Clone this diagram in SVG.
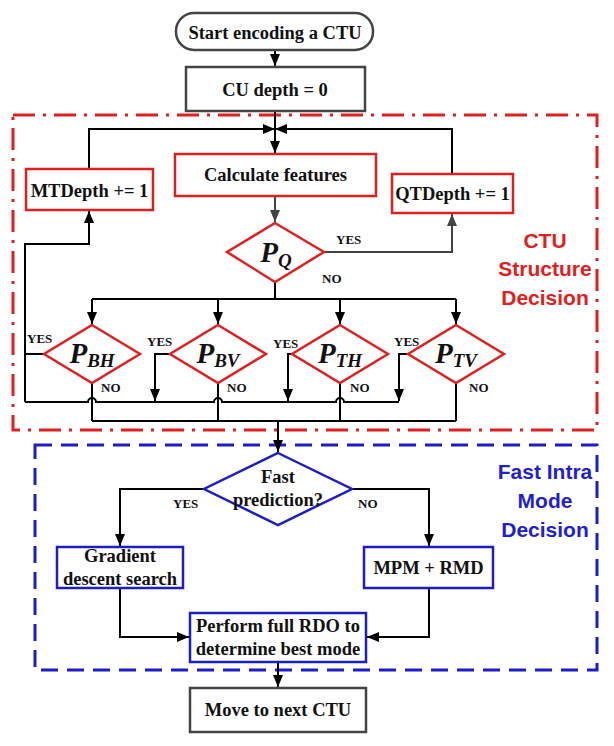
<svg xmlns="http://www.w3.org/2000/svg" width="614" height="746" viewBox="0 0 614 746">
<defs>
<marker id="ah" markerUnits="userSpaceOnUse" markerWidth="13" markerHeight="10" refX="12" refY="5" orient="auto"><path d="M0,0 L12,5 L0,10 z" fill="#000"/></marker>
<marker id="ahg" markerUnits="userSpaceOnUse" markerWidth="13" markerHeight="10" refX="12" refY="5" orient="auto"><path d="M0,0 L12,5 L0,10 z" fill="#444"/></marker>
</defs>
<style>
.t{font-family:"Liberation Serif","Times New Roman",serif;font-weight:bold;font-size:18.5px;fill:#111;text-anchor:middle}
.lb{font-family:"Liberation Serif","Times New Roman",serif;font-weight:bold;font-size:13px;fill:#111}
.p{font-family:"Liberation Serif","Times New Roman",serif;font-weight:bold;font-style:italic;fill:#111;text-anchor:middle}
.rb{fill:#fff;stroke:#e02020;stroke-width:2.5}
.bb{fill:#fff;stroke:#1c1cc8;stroke-width:2.5}
.gb{fill:#fff;stroke:#444;stroke-width:2.5}
.c{fill:none;stroke:#000;stroke-width:2}
.cg{fill:none;stroke:#444;stroke-width:2}
.sec{font-family:"Liberation Sans",Arial,sans-serif;font-weight:bold;font-size:21px;text-anchor:middle}
</style>
<rect x="13" y="115" width="584" height="315" fill="none" stroke="#e02020" stroke-width="3" stroke-dasharray="22 8 3 8"/>
<rect x="35" y="445" width="562" height="225" fill="none" stroke="#1c1cc8" stroke-width="3" stroke-dasharray="17 9"/>
<g id="connectors">
<path class="c" d="M275,50 V66" marker-end="url(#ah)"/>
<path class="c" d="M275,111 V153" marker-end="url(#ah)"/>
<path class="c" d="M89,169 V129 H275" marker-end="url(#ah)"/>
<path class="c" d="M452,174 V129 H275" marker-end="url(#ah)"/>
<path class="cg" d="M275,196 V222" marker-end="url(#ahg)"/>
<path class="cg" d="M324,252 H452 V214" marker-end="url(#ahg)"/>
<path class="c" d="M275,282 V299 M92,299 H456"/>
<path class="c" d="M92,299 V324" marker-end="url(#ah)"/>
<path class="c" d="M218,299 V324" marker-end="url(#ah)"/>
<path class="c" d="M340,299 V324" marker-end="url(#ah)"/>
<path class="c" d="M456,299 V324" marker-end="url(#ah)"/>
<path class="c" d="M44,354 H25 M25,402 V244 H89 V211" marker-end="url(#ah)"/>
<path class="c" d="M170,354 H155 V401" marker-end="url(#ah)"/>
<path class="c" d="M292,354 H288 V401" marker-end="url(#ah)"/>
<path class="c" d="M408,354 H399 V401" marker-end="url(#ah)"/>
<path class="c" d="M25,402 H88 A4,4 0 0 1 96,402 H214 A4,4 0 0 1 222,402 H336 A4,4 0 0 1 344,402 H399"/>
<path class="c" d="M92,383 V421 M218,383 V421 M340,383 V421 M456,383 V421 M92,421 H456"/>
<path class="c" d="M278,421 V452" marker-end="url(#ah)"/>
<path class="c" d="M204,489 H120 V546" marker-end="url(#ah)"/>
<path class="c" d="M352,489 H429 V546" marker-end="url(#ah)"/>
<path class="c" d="M120,588 V637 H189" marker-end="url(#ah)"/>
<path class="c" d="M429,588 V637 H367" marker-end="url(#ah)"/>
<path class="c" d="M278,662 V687" marker-end="url(#ah)"/>
</g>
<g id="start"><rect x="176" y="13" width="197" height="37" rx="18" class="gb"/><text class="t" x="275" y="38.5">Start encoding a CTU</text></g>
<g id="cudepth"><rect x="186" y="67" width="179" height="44" class="gb"/><text class="t" x="275" y="95.5">CU depth = 0</text></g>
<g id="calc"><rect x="175" y="154" width="201" height="42" class="rb"/><text class="t" x="275.5" y="181">Calculate features</text></g>
<g id="mtdepth"><rect x="26" y="169" width="127" height="41" class="rb"/><text class="t" x="89.5" y="196.5">MTDepth += 1</text></g>
<g id="qtdepth"><rect x="392" y="174" width="121" height="39" class="rb"/><text class="t" x="452.5" y="199.5">QTDepth += 1</text></g>
<g id="pq"><polygon points="275,223 324,252 275,282 227,252" class="rb"/><text class="p" x="276" y="262"><tspan font-size="29">P</tspan><tspan font-size="19" dy="5">Q</tspan></text></g>
<g id="pbh"><polygon points="92,325 140,354 92,383 44,354" class="rb"/><text class="p" x="92" y="363"><tspan font-size="29">P</tspan><tspan font-size="19" dy="4">BH</tspan></text></g>
<g id="pbv"><polygon points="218,325 266,354 218,383 170,354" class="rb"/><text class="p" x="218" y="363"><tspan font-size="29">P</tspan><tspan font-size="19" dy="4">BV</tspan></text></g>
<g id="pth"><polygon points="340,325 388,354 340,383 292,354" class="rb"/><text class="p" x="340" y="363"><tspan font-size="29">P</tspan><tspan font-size="19" dy="4">TH</tspan></text></g>
<g id="ptv"><polygon points="456,325 504,354 456,383 408,354" class="rb"/><text class="p" x="456" y="363"><tspan font-size="29">P</tspan><tspan font-size="19" dy="4">TV</tspan></text></g>
<g id="labels">
<text class="lb" x="336" y="244">YES</text>
<text class="lb" x="322" y="283">NO</text>
<text class="lb" x="27" y="343">YES</text>
<text class="lb" x="101" y="392">NO</text>
<text class="lb" x="147" y="346">YES</text>
<text class="lb" x="227" y="392">NO</text>
<text class="lb" x="273" y="348">YES</text>
<text class="lb" x="350" y="392">NO</text>
<text class="lb" x="394" y="346">YES</text>
<text class="lb" x="469" y="392">NO</text>
<text class="lb" x="173" y="508">YES</text>
<text class="lb" x="358" y="508">NO</text>
</g>
<g id="fast"><polygon points="278,453 352,489 278,525 204,489" class="bb" fill="none"/><text class="t" x="278" y="483">Fast</text><text class="t" x="278" y="506">prediction?</text></g>
<g id="gradient"><rect x="57" y="547" width="126" height="41" class="bb"/><text class="t" x="120" y="562">Gradient</text><text class="t" x="120" y="585">descent search</text></g>
<g id="mpm"><rect x="364" y="547" width="129" height="41" class="bb"/><text class="t" x="428.5" y="573.5">MPM + RMD</text></g>
<g id="rdo"><rect x="190" y="613" width="176" height="49" class="bb"/><text class="t" x="278" y="632">Perform full RDO to</text><text class="t" x="278" y="655">determine best mode</text></g>
<g id="next"><rect x="190" y="688" width="176" height="44" class="gb"/><text class="t" x="278" y="716">Move to next CTU</text></g>
<g id="ctu-title" fill="#e02020"><text class="sec" x="545" y="248">CTU</text><text class="sec" x="545" y="276">Structure</text><text class="sec" x="545" y="305">Decision</text></g>
<g id="intra-title" fill="#1f1fd0"><text class="sec" x="545" y="479">Fast Intra</text><text class="sec" x="545" y="508">Mode</text><text class="sec" x="545" y="537">Decision</text></g>
</svg>
